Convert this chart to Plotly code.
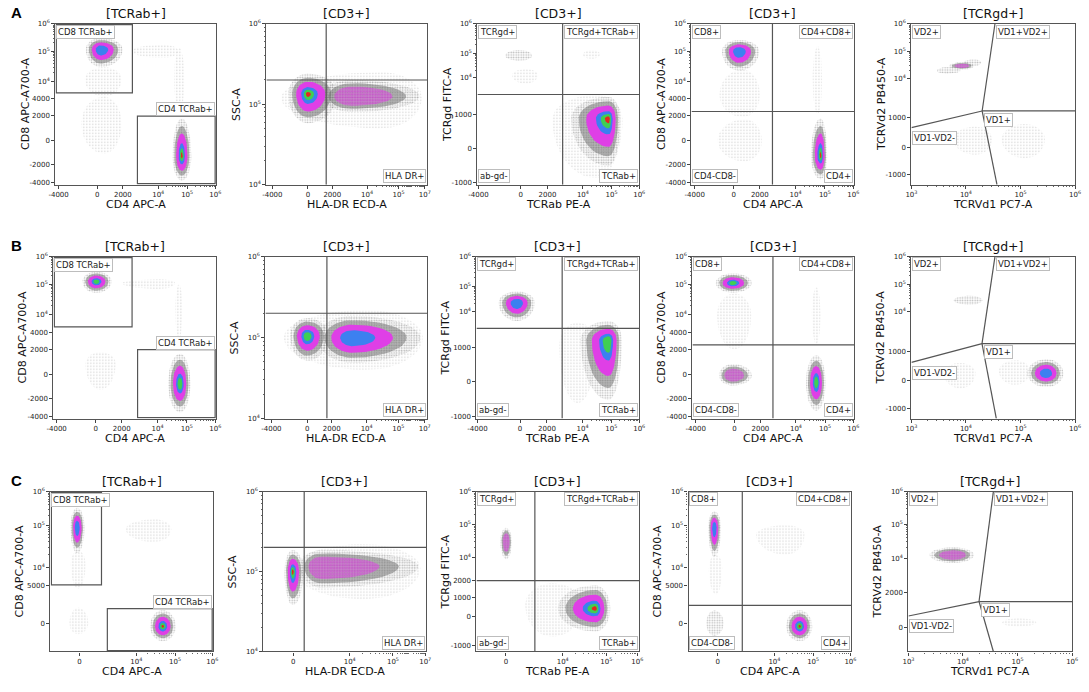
import numpy as np
import plotly.graph_objects as go

FONT = "DejaVu Sans"

# ---------------- axis scales (Kaluza biexponential) ----------------
# ticks: tick values, pos: where each tick sits along the axis (0..1), lo/hi: axis end values
AB_CD4_X = dict(ticks=[-4000, 0, 2000, 1e4, 1e5, 1e6], pos=[0.02, 0.26, 0.42, 0.64, 0.82, 0.995], lo=-5000, hi=1.07e6)
AB_CD8_Y = dict(ticks=[-4000, -2000, 0, 2000, 4000, 1e4, 1e5, 1e6],
                pos=[0.012, 0.125, 0.274, 0.427, 0.533, 0.64, 0.83, 1.0], lo=-4300, hi=None)
AB_HLA_X = dict(ticks=[-4000, 0, 2000, 1e4, 1e5, 1e7], pos=[0.037, 0.258, 0.41, 0.626, 0.822, 0.985], lo=-6400, hi=1.5e7)
SSC_Y = dict(ticks=[1e4, 1e5, 1e6], pos=[0.0, 0.5, 1.0], lo=None, hi=None)
AB_TCRAB_X = dict(ticks=[-4000, 0, 2000, 1e4, 1e5, 1e6], pos=[0.006, 0.268, 0.433, 0.652, 0.829, 1.0], lo=-4280, hi=None)
AB_TCRGD_Y = dict(ticks=[-1000, 0, 1000, 1e4, 1e5, 1e6], pos=[0.012, 0.227, 0.436, 0.663, 0.816, 1.0], lo=-1100, hi=None)
VD1_X = dict(ticks=[1e3, 1e4, 1e5, 1e6], pos=[0.0, 0.333, 0.667, 1.0], lo=None, hi=None, log=True)
AB_VD2_Y = dict(ticks=[-1000, 0, 1000, 1e4, 1e5, 1e6], pos=[0.06, 0.232, 0.415, 0.66, 0.83, 1.0], lo=-1730, hi=None)

C_CD4_X = dict(ticks=[0, 1e4, 1e5, 1e6], pos=[0.179, 0.528, 0.766, 0.995], lo=-1600, hi=1.05e6)
C_CD8_Y = dict(ticks=[0, 5000, 1e4, 1e5, 1e6], pos=[0.177, 0.41, 0.526, 0.79, 1.0], lo=-2400, hi=None)
C_HLA_X = dict(ticks=[0, 1e4, 1e5, 1e7], pos=[0.183, 0.53, 0.796, 0.994], lo=-1700, hi=1.15e7)
C_TCRAB_X = dict(ticks=[0, 1e4, 1e5, 1e6], pos=[0.181, 0.53, 0.798, 0.988], lo=-1650, hi=1.16e6)
C_TCRGD_Y = dict(ticks=[-1000, 0, 1000, 2000, 1e4, 1e5, 1e6],
                 pos=[0.04, 0.22, 0.336, 0.443, 0.588, 0.794, 1.0], lo=-1400, hi=None)
C_VD2_Y = dict(ticks=[0, 2000, 1e4, 1e5, 1e6], pos=[0.15, 0.37, 0.583, 0.797, 1.0], lo=-1000, hi=None)

# ---------------- populations ----------------
# (centre x, centre y, x low, x high, y low, y high, peak density 0=sparse .. 6=red)
A1_POPS = [(150, 1.15e5, -450, 1950, 3e4, 3.1e5, 4),
           (300, 1.2e4, -500, 1800, 4500, 3e4, 0),
           (300, 1000, -700, 1800, -700, 4500, 0),
           (5.5e4, 1.2e4, 3.5e4, 8e4, 2200, 1.3e5, 0),
           (1.5e4, 1e5, 3000, 5e4, 6e4, 1.7e5, 0),
           (6.5e4, -900, 3.1e4, 1.4e5, -3700, 1600, 6)]
A2_POPS = [(3e4, 1.2e5, -2000, 6e6, 5e4, 2.5e5, 0),
           (5000, 1.25e5, 800, 4e6, 8e4, 2e5, 3),
           (0, 1.34e5, -1100, 2500, 5.8e4, 2.4e5, 6)]
A3_POPS = [(3e4, 800, 2500, 2.5e5, -800, 3500, 0),
           (2e4, 9e4, 1e4, 4e4, 6e4, 1.3e5, 0),
           (200, 1.3e4, -300, 900, 7000, 2.3e4, 0),
           (-50, 8e4, -600, 500, 5e4, 1.3e5, 1),
           (7.9e4, 820, 5900, 2.1e5, -400, 3100, 6)]
A4_POPS = [(400, 5000, -600, 2000, 1800, 2.5e4, 0),
           (500, 0, -700, 2200, -1500, 1500, 0),
           (5.7e4, 1.2e4, 3.8e4, 8e4, 2200, 1.5e5, 0),
           (210, 1e5, -470, 1900, 2.3e4, 2.6e5, 4),
           (7.2e4, -870, 3.3e4, 1.2e5, -3500, 1600, 6)]
A5_POPS = [(1.2e5, 200, 4.5e4, 2.8e5, -300, 700, 0),
           (1.5e4, 200, 6000, 3e4, -200, 600, 0),
           (4500, 1.9e4, 3000, 8000, 1.5e4, 2.6e4, 1),
           (1.4e4, 3.8e4, 9000, 1.9e4, 2.8e4, 5e4, 1),
           (8600, 2.9e4, 5000, 1.4e4, 2.1e4, 3.9e4, 3)]

B1_POPS = [(5.5e4, 1.5e4, 4e4, 7e4, 3000, 1e5, 0),
           (200, 500, -400, 1200, -900, 1600, 0),
           (1.2e4, 1.1e5, 2000, 4e4, 7e4, 1.5e5, 0),
           (20, 1.25e5, -540, 830, 5.2e4, 2.9e5, 5),
           (5.9e4, -470, 2.3e4, 1.35e5, -3400, 1370, 5)]
B2_POPS = [(1e4, 1e5, -1500, 7e6, 4e4, 2.2e5, 0),
           (5100, 1e5, 500, 4.6e6, 4.9e4, 1.85e5, 4),
           (0, 1.05e5, -870, 1450, 5.2e4, 1.75e5, 5)]
B3_POPS = [(8000, 1200, 3500, 3e4, -500, 5000, 0),
           (-106, 2.2e4, -950, 710, 5500, 6.4e4, 4),
           (8e4, 1650, 9200, 2.4e5, -410, 5500, 5)]
B4_POPS = [(0, 1e4, -800, 900, 2000, 5e4, 0),
           (5e4, 1e4, 3.5e4, 7e4, 2500, 8e4, 0),
           (-64, 1.1e5, -890, 950, 5.3e4, 2.5e5, 5),
           (-64, -60, -690, 950, -575, 485, 3),
           (5e4, -380, 2.2e4, 1.05e5, -3200, 1190, 5)]
B5_POPS = [(8e4, 250, 4e4, 1.5e5, -100, 600, 0),
           (8000, 200, 4000, 1.5e4, -200, 500, 0),
           (1.2e4, 2.6e4, 6000, 2e4, 1.8e4, 3.8e4, 1),
           (2.95e5, 190, 1.33e5, 6.1e5, -160, 640, 4)]

C1_POPS = [(-50, 1.2e4, -300, 200, 4000, 2.5e4, 0),
           (-50, 0, -350, 300, -500, 800, 0),
           (3e4, 8e4, 5000, 8e4, 4e4, 1.5e5, 0),
           (-78, 8.9e4, -315, 165, 2.2e4, 3.3e5, 4),
           (4.8e4, -130, 2.25e4, 1.05e5, -1000, 620, 6)]
C2_POPS = [(2e4, 1.1e5, 0, 5e6, 4.5e4, 2.2e5, 0),
           (1500, 1.16e5, 230, 3.7e6, 6.3e4, 1.85e5, 3),
           (-20, 1e5, -300, 360, 3.8e4, 1.85e5, 6)]
C3_POPS = [(5000, 500, 800, 3e4, -600, 1800, 0),
           (10, 3.1e4, -185, 200, 8800, 8e4, 3),
           (5.6e4, 320, 7300, 1.35e5, -420, 1660, 6)]
C4_POPS = [(-60, 1e4, -300, 150, 2500, 2e4, 0),
           (2e4, 6e4, 3000, 6e4, 2e4, 1e5, 0),
           (-110, 0, -400, 200, -600, 600, 1),
           (-110, 8.9e4, -325, 110, 1.8e4, 2.6e5, 4),
           (4.5e4, -130, 2e4, 9.5e4, -1000, 620, 6)]
C5_POPS = [(1e5, 150, 5.2e4, 2.2e5, 30, 290, 0),
           (6800, 1.25e4, 2500, 1.6e4, 8000, 2.1e4, 3)]

# ---------------- gates ----------------
# rectangles: (x0, x1, y0, y1), None = axis edge
A1_RECTS = [(None, 3100, 5500, None), (3900, None, None, 1950)]
B1_RECTS = [(None, 3200, 5300, None), (4100, None, None, 1950)]
C1_RECTS = [(None, 980, 5200, None), (1480, None, None, 730)]
# quadrant splits: (x, y)
A2_SPLIT, A3_SPLIT, A4_SPLIT = (1150, 2e5), (4000, 3600), (3550, 2400)
B2_SPLIT, B3_SPLIT, B4_SPLIT = (1300, 2e5), (4000, 3500), (3550, 2400)
C2_SPLIT, C3_SPLIT, C4_SPLIT = (390, 2e5), (1600, 2000), (1190, 990)
# VD gate: (centre x, centre y, top-end x, bottom-end x, left-end y)
A5_VD = (1.98e4, 1530, 3.4e4, 3.7e4, 560)
B5_VD = (1.97e4, 1600, 3.4e4, 3.6e4, 520)
C5_VD = (1.97e4, 1120, 3.6e4, 3.6e4, 370)

TITLES = ["[TCRab+]", "[CD3+]", "[CD3+]", "[CD3+]", "[TCRgd+]"]
X_TITLES = ["CD4 APC-A", "HLA-DR ECD-A", "TCRab PE-A", "CD4 APC-A", "TCRVd1 PC7-A"]
Y_TITLES = ["CD8 APC-A700-A", "SSC-A", "TCRgd FITC-A", "CD8 APC-A700-A", "TCRVd2 PB450-A"]
QUAD_LABELS = {2: ["TCRgd+", "TCRgd+TCRab+", "ab-gd-", "TCRab+"],
               3: ["CD8+", "CD4+CD8+", "CD4-CD8-", "CD4+"]}

ROWS = [
    ("A", [AB_CD4_X, AB_HLA_X, AB_TCRAB_X, AB_CD4_X, VD1_X], [AB_CD8_Y, SSC_Y, AB_TCRGD_Y, AB_CD8_Y, AB_VD2_Y],
     [A1_POPS, A2_POPS, A3_POPS, A4_POPS, A5_POPS], [A1_RECTS, A2_SPLIT, A3_SPLIT, A4_SPLIT, A5_VD]),
    ("B", [AB_CD4_X, AB_HLA_X, AB_TCRAB_X, AB_CD4_X, VD1_X], [AB_CD8_Y, SSC_Y, AB_TCRGD_Y, AB_CD8_Y, AB_VD2_Y],
     [B1_POPS, B2_POPS, B3_POPS, B4_POPS, B5_POPS], [B1_RECTS, B2_SPLIT, B3_SPLIT, B4_SPLIT, B5_VD]),
    ("C", [C_CD4_X, C_HLA_X, C_TCRAB_X, C_CD4_X, VD1_X], [C_CD8_Y, SSC_Y, C_TCRGD_Y, C_CD8_Y, C_VD2_Y],
     [C1_POPS, C2_POPS, C3_POPS, C4_POPS, C5_POPS], [C1_RECTS, C2_SPLIT, C3_SPLIT, C4_SPLIT, C5_VD]),
]

# layout in pixels
W, H = 1089, 692
PANEL_X = {"A": [(47, 210), (261, 424), (475, 639), (692, 857), (915, 1081)],
           "B": [(45, 210), (260, 424), (474, 639), (693, 857), (915, 1081)],
           "C": [(42, 207), (258, 423), (474, 639), (689, 854), (912, 1078)]}
PANEL_Y = {"A": (19, 182), "B": (255, 419), "C": (493, 655)}

# density levels: scale of the outline, fill style (pattern = fg colour, tile size, solidity, bg)
LEVEL_SCALE = [1.0, 1.0, 0.8, 0.6, 0.34, 0.21, 0.1]
LEVEL_STYLE = [dict(pattern=("#a0a0a0", 3, 0.14, None)),
               dict(pattern=("#7c7c7c", 2.5, 0.34, None)),
               dict(pattern=("#3c3c3c", 2, 0.55, "rgba(150,150,150,0.35)")),
               dict(color="#df3fe6"),
               dict(color="#3c80f0"),
               dict(color="#3fcf52"),
               dict(color="#e3281f")]
SPECKLE_MAGENTA = dict(pattern=("#d930e0", 3, 0.55, "rgba(225,80,230,0.35)"))
GATE_COLOR = "#555555"


def anchors(ax):
    vals, ps = list(ax["ticks"]), list(ax["pos"])
    if ax.get("lo") is not None:
        vals, ps = [ax["lo"]] + vals, [0.0] + ps
    if ax.get("hi") is not None:
        vals, ps = vals + [ax["hi"]], ps + [1.0]
    return np.arcsinh(np.array(vals, float) / 500.0), np.array(ps)


def to_pos(ax, v):
    u, ps = anchors(ax)
    return np.interp(np.arcsinh(np.asarray(v, float) / 500.0), u, ps)


def tick_label(v, log):
    if v >= 1e4 or (log and v >= 1000):
        return "10<sup>%d</sup>" % round(np.log10(v))
    return str(int(v))


def minor_ticks(ax):
    log = ax.get("log", False)
    first = min(t for t in ax["ticks"] if t >= (1000 if log else 1e4))
    top = ax["hi"] if ax.get("hi") else ax["ticks"][-1]
    out = []
    for d in range(3, 8):
        for k in range(2, 10):
            v = k * 10 ** d
            if first < v < top:
                out.append(float(to_pos(ax, v)))
    return out


def gpos(ax, v, edge):
    return edge if v is None else float(to_pos(ax, v))


def blob(cx, cy, l, r, b, t, s, n=48):
    th = np.linspace(0, 2 * np.pi, n)
    c, si = np.cos(th), np.sin(th)
    xs = cx + s * np.where(c >= 0, r, l) * c
    ys = cy + s * np.where(si >= 0, t, b) * si
    return np.clip(xs, 0, 1), np.clip(ys, 0, 1)


fig = go.Figure()
shapes, annos, axes = [], [], {}

for r, (letter, xaxs, yaxs, pops_row, gates_row) in enumerate(ROWS):
    y0p, y1p = PANEL_Y[letter]
    annos.append(dict(x=8 / W, y=1 - (y0p - 11) / H, xref="paper", yref="paper", text="<b>%s</b>" % letter,
                      showarrow=False, xanchor="center", yanchor="middle",
                      font=dict(family="Liberation Sans", size=15, color="black")))
    for c in range(5):
        idx = r * 5 + c
        sfx = "" if idx == 0 else str(idx + 1)
        xa, ya = "x" + sfx, "y" + sfx
        xax, yax = xaxs[c], yaxs[c]
        x0p, x1p = PANEL_X[letter][c]
        for key, ax, dom, anchor in (("xaxis" + sfx, xax, [x0p / W, x1p / W], ya),
                                     ("yaxis" + sfx, yax, [1 - y1p / H, 1 - y0p / H], xa)):
            axes[key] = dict(domain=dom, range=[0, 1], anchor=anchor, tickmode="array",
                             tickvals=list(ax["pos"]),
                             ticktext=[tick_label(v, ax.get("log", False)) for v in ax["ticks"]],
                             ticks="outside", ticklen=3, tickwidth=1, tickcolor="#444",
                             tickfont=dict(family=FONT, size=7, color="#222"),
                             minor=dict(tickmode="array", tickvals=minor_ticks(ax), ticks="outside",
                                        ticklen=1.5, tickcolor="#666"),
                             showgrid=False, zeroline=False, showline=True, mirror=True,
                             linecolor="#555", linewidth=1.2, fixedrange=True)

        # populations, drawn level by level so dense cores sit on top
        pops = pops_row[c]
        geo = []
        for p in pops:
            px = to_pos(xax, [p[0], p[2], p[3]])
            py = to_pos(yax, [p[1], p[4], p[5]])
            geo.append((px[0], py[0], px[0] - px[1], px[2] - px[0], py[0] - py[1], py[2] - py[0], p[6]))
        for lev in range(7):
            for gx, gy, l, rr, b, t, peak in geo:
                if lev == 0 and peak != 0:
                    continue
                if lev > 0 and lev > peak:
                    continue
                xs, ys = blob(gx, gy, l, rr, b, t, LEVEL_SCALE[lev])
                st = SPECKLE_MAGENTA if (lev == 3 and peak == 3) else LEVEL_STYLE[lev]
                tr = dict(x=xs, y=ys, xaxis=xa, yaxis=ya, mode="lines", fill="toself",
                          line=dict(width=0), hoverinfo="skip", showlegend=False)
                if "pattern" in st:
                    fg, size, sol, bg = st["pattern"]
                    tr["fillcolor"] = "rgba(0,0,0,0)"
                    tr["fillpattern"] = dict(shape=".", fgcolor=fg, size=size, solidity=sol)
                    if bg:
                        tr["fillpattern"]["bgcolor"] = bg
                else:
                    tr["fillcolor"] = st["color"]
                fig.add_trace(go.Scatter(**tr))

        # gates and their labels
        g = gates_row[c]
        line = dict(color=GATE_COLOR, width=1.2)
        lab = dict(showarrow=False, xref=xa, yref=ya, bgcolor="white", bordercolor="#bdbdbd",
                   borderwidth=1, borderpad=1, font=dict(family=FONT, size=8.5, color="#222"))
        if c == 0:
            names = ["CD8 TCRab+", "CD4 TCRab+"]
            for k, (gx0, gx1, gy0, gy1) in enumerate(g):
                X0, X1 = gpos(xax, gx0, 0.006), gpos(xax, gx1, 0.994)
                Y0, Y1 = gpos(yax, gy0, 0.006), gpos(yax, gy1, 0.994)
                shapes.append(dict(type="rect", xref=xa, yref=ya, x0=X0, x1=X1, y0=Y0, y1=Y1, line=line))
                if k == 0:
                    annos.append(dict(lab, x=X0, y=Y1, xanchor="left", yanchor="top", text=names[k]))
                else:
                    annos.append(dict(lab, x=X1, y=Y1, xanchor="right", yanchor="bottom", text=names[k]))
        elif c in (1, 2, 3):
            gx, gy = float(to_pos(xax, g[0])), float(to_pos(yax, g[1]))
            shapes.append(dict(type="line", xref=xa, yref=ya, x0=gx, x1=gx, y0=0, y1=1, line=line))
            shapes.append(dict(type="line", xref=xa, yref=ya, x0=0, x1=1, y0=gy, y1=gy, line=line))
            if c == 1:
                annos.append(dict(lab, x=0.995, y=0.01, xanchor="right", yanchor="bottom", text="HLA DR+"))
            else:
                tl, tr_, bl, br = QUAD_LABELS[c]
                annos.append(dict(lab, x=0.005, y=0.995, xanchor="left", yanchor="top", text=tl))
                annos.append(dict(lab, x=0.995, y=0.995, xanchor="right", yanchor="top", text=tr_))
                annos.append(dict(lab, x=0.005, y=0.01, xanchor="left", yanchor="bottom", text=bl))
                annos.append(dict(lab, x=0.995, y=0.01, xanchor="right", yanchor="bottom", text=br))
        else:
            cx, cy = float(to_pos(xax, g[0])), float(to_pos(yax, g[1]))
            tx, bx = float(to_pos(xax, g[2])), float(to_pos(xax, g[3]))
            ly = float(to_pos(yax, g[4]))
            for ex, ey in ((tx, 1), (bx, 0), (0, ly), (1, cy)):
                shapes.append(dict(type="line", xref=xa, yref=ya, x0=cx, y0=cy, x1=ex, y1=ey, line=line))
            annos.append(dict(lab, x=0.005, y=0.995, xanchor="left", yanchor="top", text="VD2+"))
            annos.append(dict(lab, x=tx + 0.005, y=0.995, xanchor="left", yanchor="top", text="VD1+VD2+"))
            annos.append(dict(lab, x=cx + 0.01, y=cy - 0.01, xanchor="left", yanchor="top", text="VD1+"))
            annos.append(dict(lab, x=0.005, y=ly - 0.02, xanchor="left", yanchor="top", text="VD1-VD2-"))

        # panel title and axis titles
        xm = (x0p + x1p) / 2 / W
        annos.append(dict(x=xm, y=1 - (y0p - 10) / H, xref="paper", yref="paper", text=TITLES[c],
                          showarrow=False, xanchor="center", yanchor="middle",
                          font=dict(family=FONT, size=12.5, color="#111")))
        annos.append(dict(x=xm, y=1 - (y1p + 20) / H, xref="paper", yref="paper", text=X_TITLES[c],
                          showarrow=False, xanchor="center", yanchor="middle",
                          font=dict(family=FONT, size=11, color="#111")))
        annos.append(dict(x=(x0p - 31) / W, y=1 - (y0p + y1p) / 2 / H, xref="paper", yref="paper",
                          text=Y_TITLES[c], textangle=-90, showarrow=False, xanchor="center",
                          yanchor="middle", font=dict(family=FONT, size=11, color="#111")))

fig.update_layout(width=W, height=H, margin=dict(l=0, r=0, t=0, b=0), paper_bgcolor="white",
                  plot_bgcolor="white", showlegend=False, shapes=shapes, annotations=annos, **axes)

# page margin off so the 1089x692 figure fills the window exactly
fig.write_html("out.html", config={"displayModeBar": False},
               post_script="document.body.style.margin='0';")
